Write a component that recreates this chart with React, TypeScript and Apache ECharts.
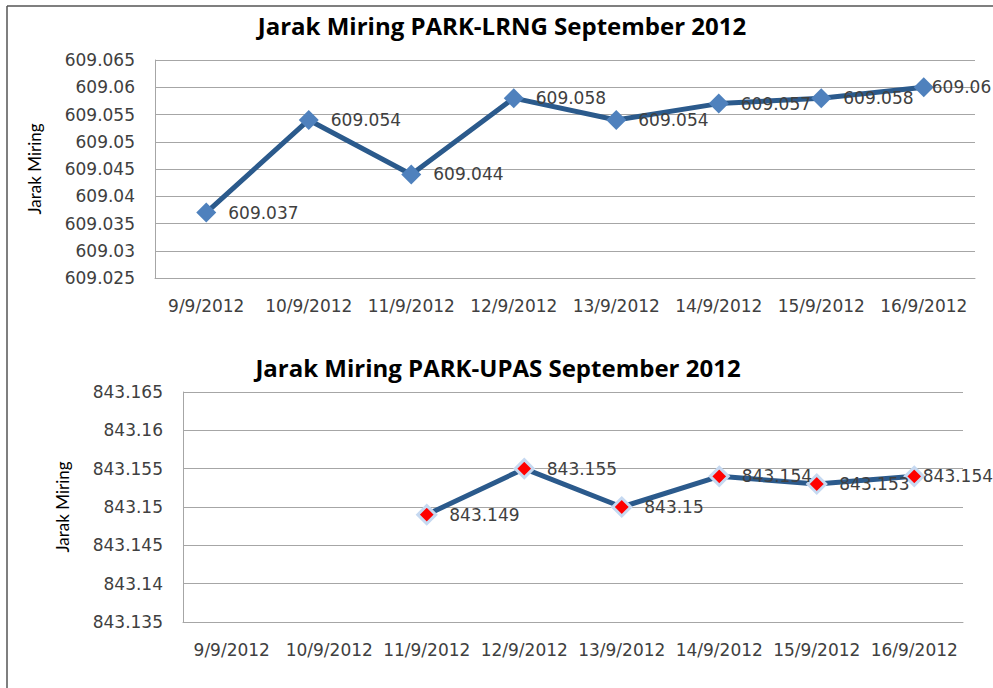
import React, { useEffect, useRef } from "react";
import * as echarts from "echarts";

const categories = ["9/9/2012", "10/9/2012", "11/9/2012", "12/9/2012", "13/9/2012", "14/9/2012", "15/9/2012", "16/9/2012"];
const lrngValues = [609.037, 609.054, 609.044, 609.058, 609.054, 609.057, 609.058, 609.06];
const upasValues: (number | null)[] = [null, null, 843.149, 843.155, 843.15, 843.154, 843.153, 843.154];
const titleTop = "Jarak Miring PARK-LRNG September 2012";
const titleBottom = "Jarak Miring PARK-UPAS September 2012";
const yName = "Jarak Miring";

const fmt = (v: number) => String(+Number(v).toFixed(3));

export default function App() {
  const ref = useRef<HTMLDivElement>(null);
  useEffect(() => {
    if (!ref.current) return;
    const chart = echarts.init(ref.current, null, { renderer: "svg" });
    const axisLabel = { fontFamily: "DejaVu Sans", fontSize: 17, color: "#404040" };
    const dataLabel = {
      show: true,
      position: "right" as const,
      distance: 12,
      fontFamily: "DejaVu Sans",
      fontSize: 17,
      color: "#404040",
      formatter: (p: any) => fmt(p.value),
    };
    const withLastLabel = (vals: (number | null)[], dx: number) =>
      vals.map((v, i) =>
        i === vals.length - 1 ? { value: v, label: { distance: dx } } : v
      );
    const yCommon = {
      type: "value",
      name: yName,
      nameLocation: "middle",
      nameGap: 112,
      axisLine: { show: true, lineStyle: { color: "#A6A6A6" } },
      axisTick: { show: false },
      splitLine: { lineStyle: { color: "#A6A6A6" } },
      axisLabel: { ...axisLabel, margin: 20, formatter: fmt },
    };
    chart.setOption({
      animation: false,
      backgroundColor: "#ffffff",
      title: [
        {
          text: titleTop,
          left: 497,
          textAlign: "center",
          top: 8,
          textStyle: { fontFamily: "Open Sans", fontWeight: "bold", fontSize: 24, color: "#000" },
        },
        {
          text: titleBottom,
          left: 493,
          textAlign: "center",
          top: 350,
          textStyle: { fontFamily: "Open Sans", fontWeight: "bold", fontSize: 24, color: "#000" },
        },
      ],
      graphic: [
        { type: "line", shape: { x1: 7, y1: 6, x2: 993, y2: 6 }, style: { stroke: "#555", lineWidth: 1.5 } },
        { type: "line", shape: { x1: 7, y1: 6, x2: 7, y2: 688 }, style: { stroke: "#555", lineWidth: 1.5 } },
      ],
      grid: [
        { left: 155, top: 60, width: 820, height: 218 },
        { left: 183, top: 392, width: 780, height: 230 },
      ],
      xAxis: [0, 1].map((i) => ({
        type: "category",
        gridIndex: i,
        data: categories,
        boundaryGap: true,
        axisLine: { lineStyle: { color: "#A6A6A6" } },
        axisTick: { alignWithLabel: true, length: 6, lineStyle: { color: "#A6A6A6" } },
        axisLabel: { ...axisLabel, margin: 19, interval: 0 },
      })),
      yAxis: [
        {
          ...yCommon,
          gridIndex: 0,
          min: 609.025,
          max: 609.065,
          interval: 0.005,
          nameTextStyle: { fontFamily: "Lato", fontSize: 17, color: "#000" },
        },
        {
          ...yCommon,
          gridIndex: 1,
          min: 843.135,
          max: 843.165,
          interval: 0.005,
          nameTextStyle: { fontFamily: "Lato", fontSize: 17, color: "#000" },
        },
      ],
      series: [
        {
          type: "line",
          xAxisIndex: 0,
          yAxisIndex: 0,
          data: withLastLabel(lrngValues, -2),
          symbol: "diamond",
          symbolSize: 20,
          lineStyle: { color: "#2B5A8C", width: 5 },
          itemStyle: { color: "#4F81BD" },
          label: dataLabel,
        },
        {
          type: "line",
          xAxisIndex: 1,
          yAxisIndex: 1,
          data: withLastLabel(upasValues, -2),
          symbol: "diamond",
          symbolSize: 18,
          lineStyle: { color: "#2B5A8C", width: 5 },
          itemStyle: { color: "#FF0000", borderColor: "#C6D9F1", borderWidth: 3 },
          label: dataLabel,
        },
      ],
    });
    return () => chart.dispose();
  }, []);
  return <div ref={ref} style={{ position: "fixed", left: 0, top: 0, width: 993, height: 688 }} />;
}
